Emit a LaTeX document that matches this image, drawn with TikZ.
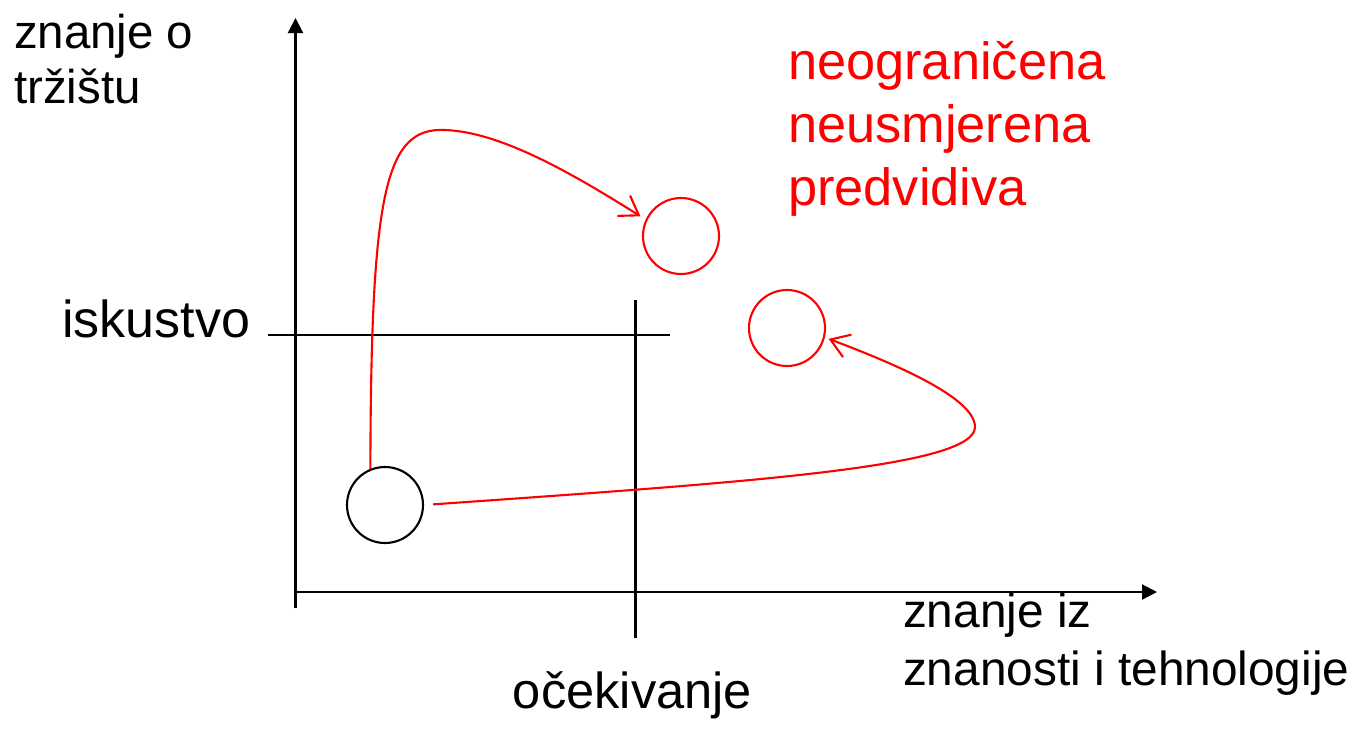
\documentclass[tikz,border=0pt]{standalone}
\usepackage{fontspec}
\setmainfont{Liberation Sans}
\usepackage{tikz}
\usepackage{xcolor}
\usetikzlibrary{arrows.meta}

\begin{document}
\begin{tikzpicture}[line width=0.6pt,
  lbl/.style 2 args={inner sep=0pt, align=left, font=\fontsize{#1}{#2}\selectfont},
  krug/.style={circle, draw, minimum size=0.76cm, inner sep=0pt},
  put/.style={red, -{Straight Barb[length=1.8mm,width=2.4mm]}}]
\useasboundingbox (0,0) rectangle (13.54,7.32);
\coordinate (O) at (2.955,1.40);
\coordinate (Ydno) at (2.955,1.24);
\coordinate (Yvrh) at (2.955,7.14);
\coordinate (Xkraj) at (11.57,1.40);
\coordinate (Hlijevo) at (2.68,3.97);
\coordinate (Hdesno) at (6.70,3.97);
\coordinate (Vgore) at (6.355,4.32);
\coordinate (Vdolje) at (6.355,0.94);
\draw[-{Triangle[length=1.5mm,width=1.5mm]}] (Ydno) -- (Yvrh);
\draw[-{Triangle[length=1.5mm,width=1.5mm]}] (O) -- (Xkraj);
\draw (Hlijevo) -- (Hdesno);
\draw (Vgore) -- (Vdolje);
\node[krug] (start) at (3.85,2.27) {};
\node[krug, red] (ciljA) at (6.81,4.96) {};
\node[krug, red] (ciljB) at (7.87,4.04) {};
\coordinate (vrh) at (4.45,6.02);
\coordinate (zavoj) at (9.75,3.05);
\draw[put, shorten >=0.6mm] (start.112) .. controls (3.71,5.4) and (3.85,6.05) .. (vrh)
  .. controls (5.0,6.0) and (5.7,5.6) .. (ciljA.155);
\draw[put, shorten <=0.9mm, shorten >=0.4mm] (start.east) .. controls (7.5,2.5) and (9.75,2.65) .. (zavoj)
  .. controls (9.75,3.35) and (8.9,3.7) .. (ciljB.-14);
\node[lbl={13.5pt}{15.4pt}, anchor=base west] (trziste) at (0.13,6.29) {znanje o\\tržištu};
\node[lbl={14.8pt}{16pt}, anchor=base west] (iskustvo) at (0.61,3.95) {iskustvo};
\node[lbl={14.9pt}{17.9pt}, anchor=base west, red] (svojstva) at (7.87,5.27) {neograničena\\neusmjerena\\predvidiva};
\node[lbl={13.6pt}{16.5pt}, anchor=base west] (znanost) at (9.02,0.47) {znanje iz\\znanosti i tehnologije};
\node[lbl={14.4pt}{16pt}, anchor=base] (ocekivanje) at (6.325,0.24) {očekivanje};
\end{tikzpicture}
\end{document}
